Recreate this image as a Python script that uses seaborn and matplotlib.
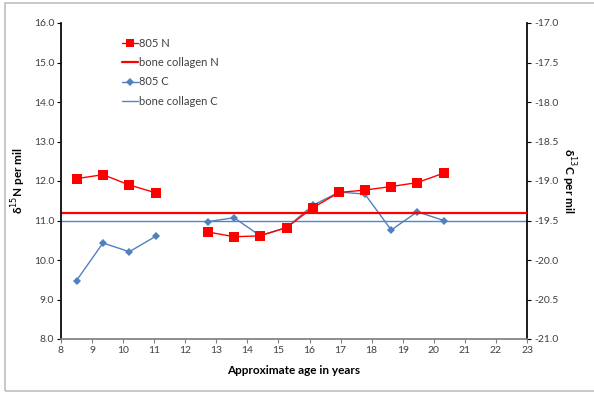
import numpy as np
import pandas as pd
import matplotlib
matplotlib.use("Agg")
import matplotlib.pyplot as plt
from matplotlib.lines import Line2D
from matplotlib.patches import Rectangle
import seaborn as sns

# Approximate age (years) of each sampled increment
age = [8.5, 9.35, 10.2, 11.05, 12.72, 13.57, 14.4, 15.26, 16.1, 16.95, 17.78, 18.63, 19.47, 20.32]
# Section index: the first four increments and the rest form separate runs
section = [0, 0, 0, 0, 1, 1, 1, 1, 1, 1, 1, 1, 1, 1]
# delta15N (per mil) of sample 805
n_805 = [12.06, 12.16, 11.9, 11.7, 10.71, 10.59, 10.61, 10.82, 11.32, 11.71, 11.77, 11.86, 11.96, 12.2]
# delta13C (per mil) of sample 805
c_805 = [-20.26, -19.785, -19.895, -19.7, -19.515, -19.465, -19.69, -19.59, -19.31, -19.14, -19.165, -19.62, -19.39, -19.5]
# Bone collagen reference values
bone_n = 11.2
bone_c = -19.5

x_ticks = list(range(8, 24))
n_ticks = [8.0, 9.0, 10.0, 11.0, 12.0, 13.0, 14.0, 15.0, 16.0]
c_ticks = [-21.0, -20.5, -20.0, -19.5, -19.0, -18.5, -18.0, -17.5, -17.0]

RED = "#FF0000"
BLUE = "#4F81BD"
LIGHT_BLUE = "#4A86D6"
TXT = "#404040"

sns.set_theme(style="white")
plt.rcParams["font.family"] = ["Lato", "DejaVu Sans"]

df = pd.DataFrame({"age": age, "section": section, "N": n_805, "C": c_805})

fig = plt.figure(figsize=(5.94, 3.94), dpi=100)
ax = fig.add_axes([61 / 594, 55 / 394, 466 / 594, 316 / 394])
ax2 = ax.twinx()

# Bone collagen reference lines
ax.axhline(bone_n, color=RED, lw=1.6, zorder=2)
ax2.axhline(bone_c, color=LIGHT_BLUE, lw=1.0, zorder=2)

# 805 C series on the right axis
sns.lineplot(data=df, x="age", y="C", units="section", estimator=None, ax=ax2,
             color=BLUE, lw=1.0, marker="D", markersize=4.5, markeredgewidth=0,
             legend=False, zorder=3)
# 805 N series on the left axis
sns.lineplot(data=df, x="age", y="N", units="section", estimator=None, ax=ax,
             color=RED, lw=1.0, marker="s", markersize=6.5, markeredgewidth=0,
             legend=False, zorder=3)

# Draw left-axis content above the twin axis
ax.set_zorder(ax2.get_zorder() + 1)
ax.patch.set_visible(False)

ax.set_xlim(8, 23)
ax.set_ylim(8, 16)
ax2.set_ylim(-21, -17)
ax.set_xticks(x_ticks)
ax.set_xticklabels([str(t) for t in x_ticks])
ax.set_yticks(n_ticks)
ax.set_yticklabels([f"{t:.1f}" for t in n_ticks])
ax2.set_yticks(c_ticks)
ax2.set_yticklabels([f"{t:.1f}" for t in c_ticks])

for a in (ax, ax2):
    a.spines["top"].set_visible(False)
    a.tick_params(labelsize=7.5, labelcolor=TXT, length=3, width=0.8, color="black",
                  direction="out", pad=2)
ax.spines["left"].set_color("black")
ax.spines["bottom"].set_color("#808080")
ax.spines["right"].set_visible(False)
ax2.spines["left"].set_visible(False)
ax2.spines["bottom"].set_visible(False)
ax2.spines["right"].set_color("black")
ax.tick_params(axis="both", left=True, bottom=True)
ax2.tick_params(axis="y", right=True)
ax.tick_params(axis="x", colors="#808080", labelcolor=TXT)

ax.set_xlabel("Approximate age in years", fontsize=8.5, fontweight="bold", color="black", labelpad=7)
ax.set_ylabel("δ$^{15}$N per mil", fontsize=8.5, fontweight="bold", color="black", labelpad=4)
ax2.set_ylabel("δ$^{13}$C per mil", fontsize=8.5, fontweight="bold", color="black",
               rotation=270, labelpad=14)

handles = [
    Line2D([], [], color=RED, lw=1.0, marker="s", markersize=6, markeredgewidth=0),
    Line2D([], [], color=RED, lw=1.6),
    Line2D([], [], color=BLUE, lw=1.0, marker="D", markersize=4, markeredgewidth=0),
    Line2D([], [], color=LIGHT_BLUE, lw=1.0),
]
labels = ["805 N", "bone collagen N", "805 C", "bone collagen C"]
ax.legend(handles, labels, loc="upper left", bbox_to_anchor=(0.11, 0.985), frameon=False,
          fontsize=8, handlelength=1.4, handletextpad=0.1, labelspacing=0.75,
          labelcolor=TXT)

# Outer chart frame
fig.patches.append(Rectangle((5 / 594, 3 / 394), 600 / 594, 388 / 394,
                             transform=fig.transFigure, fill=False,
                             edgecolor="#BFBFBF", lw=1.2))

fig.savefig("out.png", dpi=100)
